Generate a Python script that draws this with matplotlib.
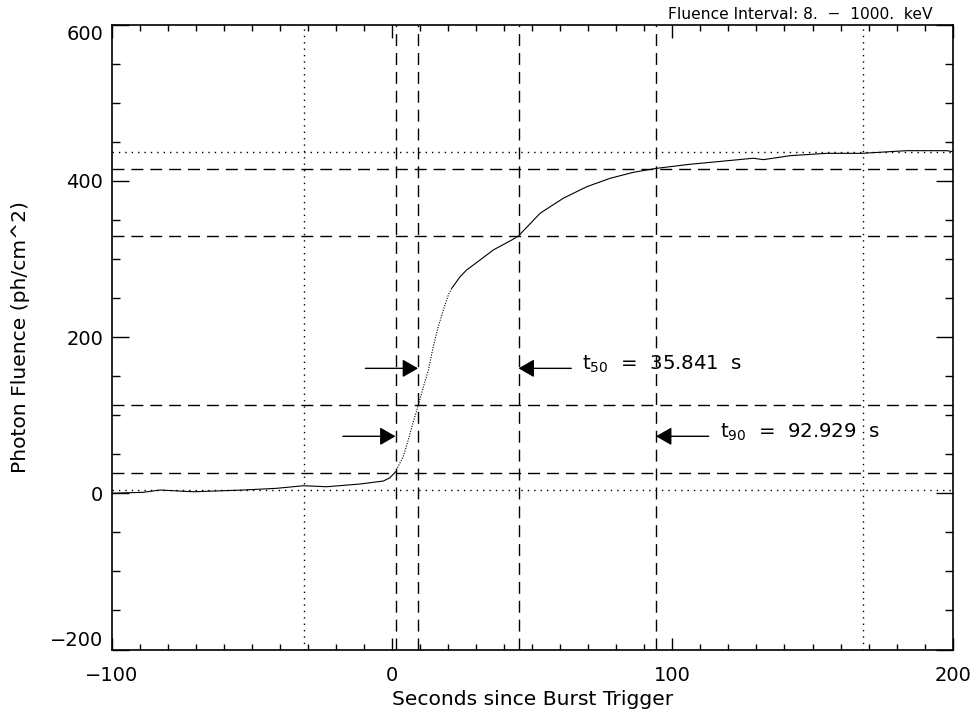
import numpy as np
import matplotlib
matplotlib.use("Agg")
import matplotlib.pyplot as plt

# Curva de fluencia (segundos, ph/cm^2)
tiempo = [-100, -88.7, -82.8, -70.9, -53.0, -41.1, -31.6, -23.3, -11.4, -3.1,
          -0.7, 1.1, 4.0, 5.8, 7.6, 9.4, 11.2, 13.0, 14.7, 16.5,
          18.3, 20.1, 21.3, 24.3, 26.6, 31.4, 36.1, 42.7, 45.1, 52.8,
          61.1, 69.5, 77.8, 86.1, 94.4, 106.3, 109.9, 128.9, 132.5, 142.0,
          155.1, 167.6, 183.6, 197.9, 200.0]
fluencia = [0.0, 1.3, 4.2, 2.0, 4.2, 6.4, 9.7, 8.4, 11.9, 15.7,
            20.0, 26.9, 46.9, 68.2, 91.7, 113.0, 136.5, 157.9, 187.7, 213.3,
            234.7, 254.0, 262.5, 277.3, 285.9, 298.7, 311.5, 324.3, 329.4, 358.5,
            377.8, 392.6, 403.3, 411.0, 416.1, 421.3, 422.5, 429.0, 427.2, 432.3,
            435.3, 435.3, 438.7, 438.7, 437.4]

# Intervalos de fondo y niveles de fluencia
fondo = [-31.3, 167.9]
nivel_bajo, nivel_alto = 4.3, 437.5
t05, t25, t75, t95 = 1.25, 9.30, 45.141, 94.179
niveles = [26.0, 112.7, 329.5, 415.6]
y_t50, y_t90 = 160, 73
t50_txt = "35.841"
t90_txt = "92.929"

xticks = [-100, 0, 100, 200]
yticks = [-200, 0, 200, 400, 600]

plt.rcParams['font.family'] = ['DejaVu Sans']
plt.rcParams['mathtext.default'] = 'regular'

fig = plt.figure(figsize=(9.77, 7.18), dpi=100)
ax = fig.add_axes([0.1143, 0.0954, 0.8608, 0.8702])

t = np.array(tiempo)
f = np.array(fluencia)
solido1 = t <= 1.1
solido2 = t >= 21.3
empinado = (t >= 1.1) & (t <= 21.3)
ax.plot(t[solido1], f[solido1], color="black", lw=0.8)
ax.plot(t[solido2], f[solido2], color="black", lw=0.8)
ax.plot(t[empinado], f[empinado], color="black", lw=0.8, dashes=(1.0, 1.3))

punteado = dict(color="black", lw=1.0, dashes=(1.0, 3.6))
rayado = dict(color="black", lw=1.0, dashes=(8.6, 5.0))

for x in fondo:
    ax.axvline(x, **punteado)
for x in [t05, t25, t75, t95]:
    ax.axvline(x, **rayado)
for y in [nivel_bajo, nivel_alto]:
    ax.axhline(y, **punteado)
for y in niveles:
    ax.axhline(y, **rayado)

# Flechas de t50 y t90
largo = 18.8
estilo = dict(arrowstyle="-|>,head_length=0.4,head_width=0.23", mutation_scale=24,
              color="black", lw=1.0, shrinkA=0, shrinkB=0)
ax.annotate("", xy=(t25, y_t50), xytext=(t25 - largo, y_t50), arrowprops=estilo)
ax.annotate("", xy=(t75, y_t50), xytext=(t75 + largo, y_t50), arrowprops=estilo)
ax.annotate("", xy=(t05, y_t90), xytext=(t05 - largo, y_t90), arrowprops=estilo)
ax.annotate("", xy=(t95, y_t90), xytext=(t95 + largo, y_t90), arrowprops=estilo)

ax.text(t75 + largo + 4.0, y_t50 - 2, "t$_{50}$  =  " + t50_txt + "  s",
        fontsize=14.2, va="baseline", ha="left")
ax.text(t95 + largo + 4.0, y_t90 - 2, "t$_{90}$  =  " + t90_txt + "  s",
        fontsize=14.2, va="baseline", ha="left")

ax.set_xlim(-100, 200)
ax.set_ylim(-200, 600)
ax.set_xticks(xticks)
ax.set_yticks(yticks)
ax.set_xticks(np.arange(-100, 201, 10), minor=True)
ax.set_yticks(np.arange(-200, 601, 50), minor=True)

ax.tick_params(which="both", direction="in", top=True, right=True, width=1.0)
ax.tick_params(axis="x", which="major", length=9, pad=12, labelsize=14)
ax.tick_params(axis="x", which="minor", length=4.5)
ax.tick_params(axis="y", which="major", length=12, pad=6, labelsize=14)
ax.tick_params(axis="y", which="minor", length=6)
for s in ax.spines.values():
    s.set_linewidth(1.2)

etiquetas = ax.get_yticklabels()
etiquetas[0].set_va("bottom")
etiquetas[-1].set_va("top")

ax.set_xlabel("Seconds since Burst Trigger", fontsize=14.6)
ax.xaxis.set_label_coords(0.5, -0.065)
ax.set_ylabel("Photon Fluence (ph/cm^2)", fontsize=14.6)
ax.yaxis.set_label_coords(-0.097, 0.5)

fig.text(933 / 977, 1 - 19 / 718, "Fluence Interval: 8.  \u2212  1000.  keV",
         fontsize=11.2, ha="right", va="baseline")

fig.savefig("out.png", dpi=100)
